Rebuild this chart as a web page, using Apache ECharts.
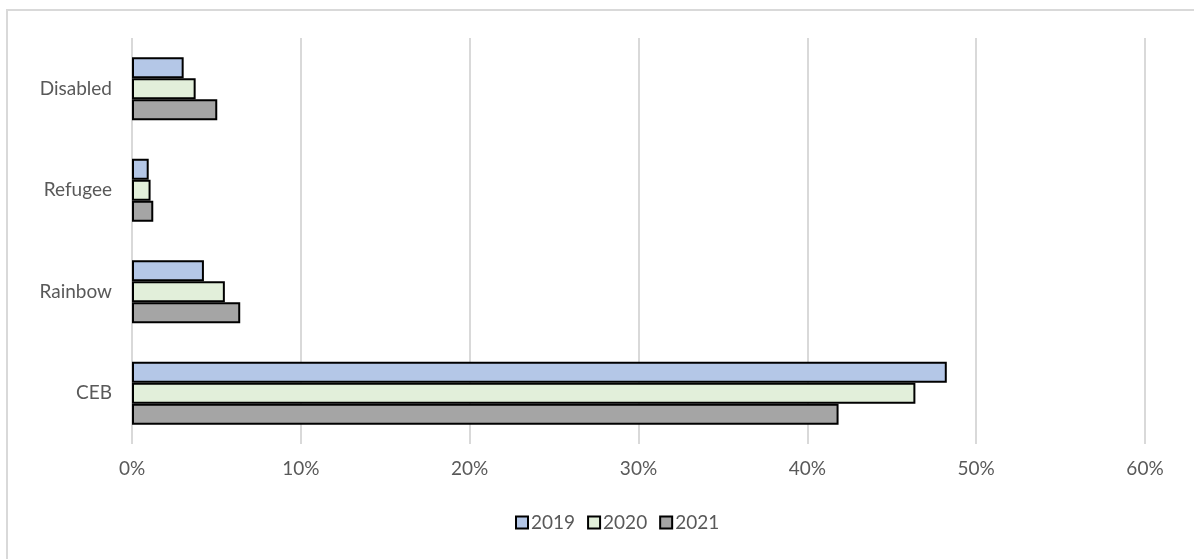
<!DOCTYPE html>
<html>
<head>
<meta charset="utf-8">
<script src="https://cdn.jsdelivr.net/npm/echarts@6/dist/echarts.min.js"></script>
<style>
  html, body { margin: 0; padding: 0; background: #ffffff; }
  #main { width: 1194px; height: 559px; }
</style>
</head>
<body>
<div id="main"></div>
<script>
// categories, bottom to top as the value axis reads them
var categories = ['CEB', 'Rainbow', 'Refugee', 'Disabled']
var years = ['2019', '2020', '2021']
var values2019 = [0.4826, 0.0426, 0.0099, 0.0306]
var values2020 = [0.4640, 0.0550, 0.0110, 0.0377]
var values2021 = [0.4185, 0.0641, 0.0126, 0.0505]
var xTicks = [0, 0.1, 0.2, 0.3, 0.4, 0.5, 0.6]

var colors = ['#b4c7e7', '#e2efda', '#a5a5a5']
var seriesValues = [values2019, values2020, values2021]
var fontFamily = 'Lato, "Open Sans", sans-serif'

var myChart = echarts.init(document.getElementById('main'))

var series = []
for (var i = 0; i < years.length; i++) {
  series.push({
    name: years[i],
    type: 'bar',
    data: seriesValues[i],
    barGap: '0%',
    barCategoryGap: '38%',
    itemStyle: {
      color: colors[i],
      borderColor: '#000000',
      borderWidth: 2
    }
  })
}

myChart.setOption({
  animation: false,
  textStyle: { fontFamily: fontFamily },
  graphic: [
    {
      type: 'rect',
      shape: { x: 7, y: 10, width: 1400, height: 800 },
      style: { fill: 'none', stroke: '#d9d9d9', lineWidth: 2 },
      silent: true
    }
  ],
  legend: {
    data: years,
    bottom: 22,
    left: 510,
    itemWidth: 12,
    itemHeight: 12,
    itemGap: 12,
    icon: 'rect',
    itemStyle: { borderColor: '#000000', borderWidth: 2 },
    textStyle: { color: '#595959', fontSize: 19, fontFamily: fontFamily, padding: [0, 0, 0, -2] }
  },
  grid: {
    left: 132,
    right: 49,
    top: 38,
    bottom: 115
  },
  xAxis: {
    type: 'value',
    min: xTicks[0],
    max: xTicks[xTicks.length - 1],
    interval: 0.1,
    axisLine: { show: false },
    axisTick: { show: false },
    axisLabel: {
      color: '#595959',
      fontSize: 19,
      margin: 15,
      formatter: function (v) { return Math.round(v * 100) + '%' }
    },
    splitLine: { lineStyle: { color: '#d9d9d9', width: 2 } }
  },
  yAxis: {
    type: 'category',
    data: categories,
    axisLine: { show: false },
    axisTick: { show: false },
    axisLabel: { color: '#595959', fontSize: 19, margin: 20 }
  },
  series: series
})
</script>
</body>
</html>
